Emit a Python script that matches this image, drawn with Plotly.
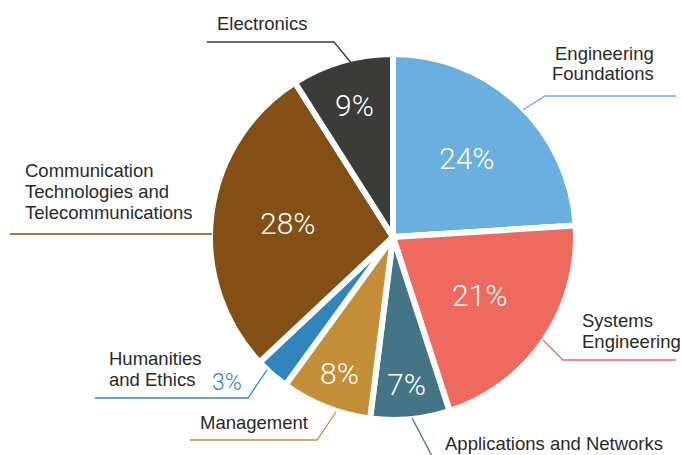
import math
import plotly.graph_objects as go

# Share of the curriculum by subject area, clockwise from 12 o'clock
categories = [
    "Engineering<br>Foundations",
    "Systems<br>Engineering",
    "Applications and Networks",
    "Management",
    "Humanities<br>and Ethics",
    "Communication<br>Technologies and<br>Telecommunications",
    "Electronics",
]
shares = [24, 21, 7, 8, 3, 28, 9]
colors = ["#6AAFE0", "#EE695E", "#437586", "#C48E38", "#2E86BC", "#844F15", "#3B3B39"]

# ---- layout constants (pixels) ----
W, H = 682, 455
CX, CY, R = 393, 237, 183          # pie centre and radius
BORDER = 6

# radial position of the percentage text, as a fraction of the radius
pct_radius = [0.59, 0.57, 0.81, 0.80, None, 0.58, 0.75]
# where the small slice's percentage sits, outside the pie
outside_pct = {4: (227, 382)}

# label text placement: (x, first-line y, anchor)
label_pos = [
    (656, 53, "right"),
    (580, 320, "left"),
    (443, 443, "left"),
    (198, 422, "left"),
    (107, 358, "left"),
    (23, 170, "left"),
    (215, 23, "left"),
]
LINE_GAP = 21

# leader lines, polyline points in pixels
leaders = [
    [(523, 110), (545, 96), (676, 96)],
    [(543, 340), (563, 360), (676, 360)],
    [(412, 418), (432, 456)],
    [(336, 412), (317, 440), (190, 440)],
    [(267, 370), (248, 398), (95, 398)],
    [(212, 234), (10, 234)],
    [(353, 65), (334, 42), (207, 42)],
]


def px(x, y):
    return x / W, 1 - y / H


fig = go.Figure(
    go.Pie(
        labels=[c.replace("<br>", " ") for c in categories],
        values=shares,
        sort=False,
        direction="clockwise",
        rotation=0,
        textinfo="none",
        hoverinfo="label+percent",
        marker=dict(colors=colors, line=dict(color="white", width=BORDER)),
        domain=dict(x=[(CX - R) / W, (CX + R) / W], y=[1 - (CY + R) / H, 1 - (CY - R) / H]),
        showlegend=False,
    )
)

annotations = []
shapes = []
total = sum(shares)
cum = 0
for i, (cat, v) in enumerate(zip(categories, shares)):
    mid = (cum + v / 2) / total * 2 * math.pi
    cum += v
    pct = f"{round(v / total * 100)}%"

    # percentage text
    if pct_radius[i] is not None:
        rr = pct_radius[i] * R
        x, y = px(CX + rr * math.sin(mid), CY - rr * math.cos(mid))
        annotations.append(dict(
            x=x, y=y, xref="paper", yref="paper", text=pct, showarrow=False,
            xanchor="center", yanchor="middle",
            font=dict(family="Roboto", weight=300, size=30, color="white"),
        ))
    else:
        ox, oy = outside_pct[i]
        x, y = px(ox, oy)
        annotations.append(dict(
            x=x, y=y, xref="paper", yref="paper", text=pct, showarrow=False,
            xanchor="center", yanchor="middle",
            font=dict(family="Roboto", weight=300, size=23, color=colors[i]),
        ))

    # category label, one annotation per line
    lx, ly, anchor = label_pos[i]
    for k, line in enumerate(cat.split("<br>")):
        x, y = px(lx, ly + k * LINE_GAP)
        annotations.append(dict(
            x=x, y=y, xref="paper", yref="paper", text=line, showarrow=False,
            xanchor=anchor, yanchor="middle",
            font=dict(family="Liberation Sans", size=18.5, color="#2A2A2A"),
        ))

    # leader line
    pts = [px(a, b) for a, b in leaders[i]]
    path = "M " + " L ".join(f"{a:.5f},{b:.5f}" for a, b in pts)
    shapes.append(dict(type="path", xref="paper", yref="paper", path=path,
                       line=dict(color=colors[i], width=1.3)))

fig.update_layout(
    width=W, height=H,
    margin=dict(l=0, r=0, t=0, b=0),
    paper_bgcolor="white", plot_bgcolor="white",
    annotations=annotations,
    shapes=shapes,
)

fig.write_html("out.html")
